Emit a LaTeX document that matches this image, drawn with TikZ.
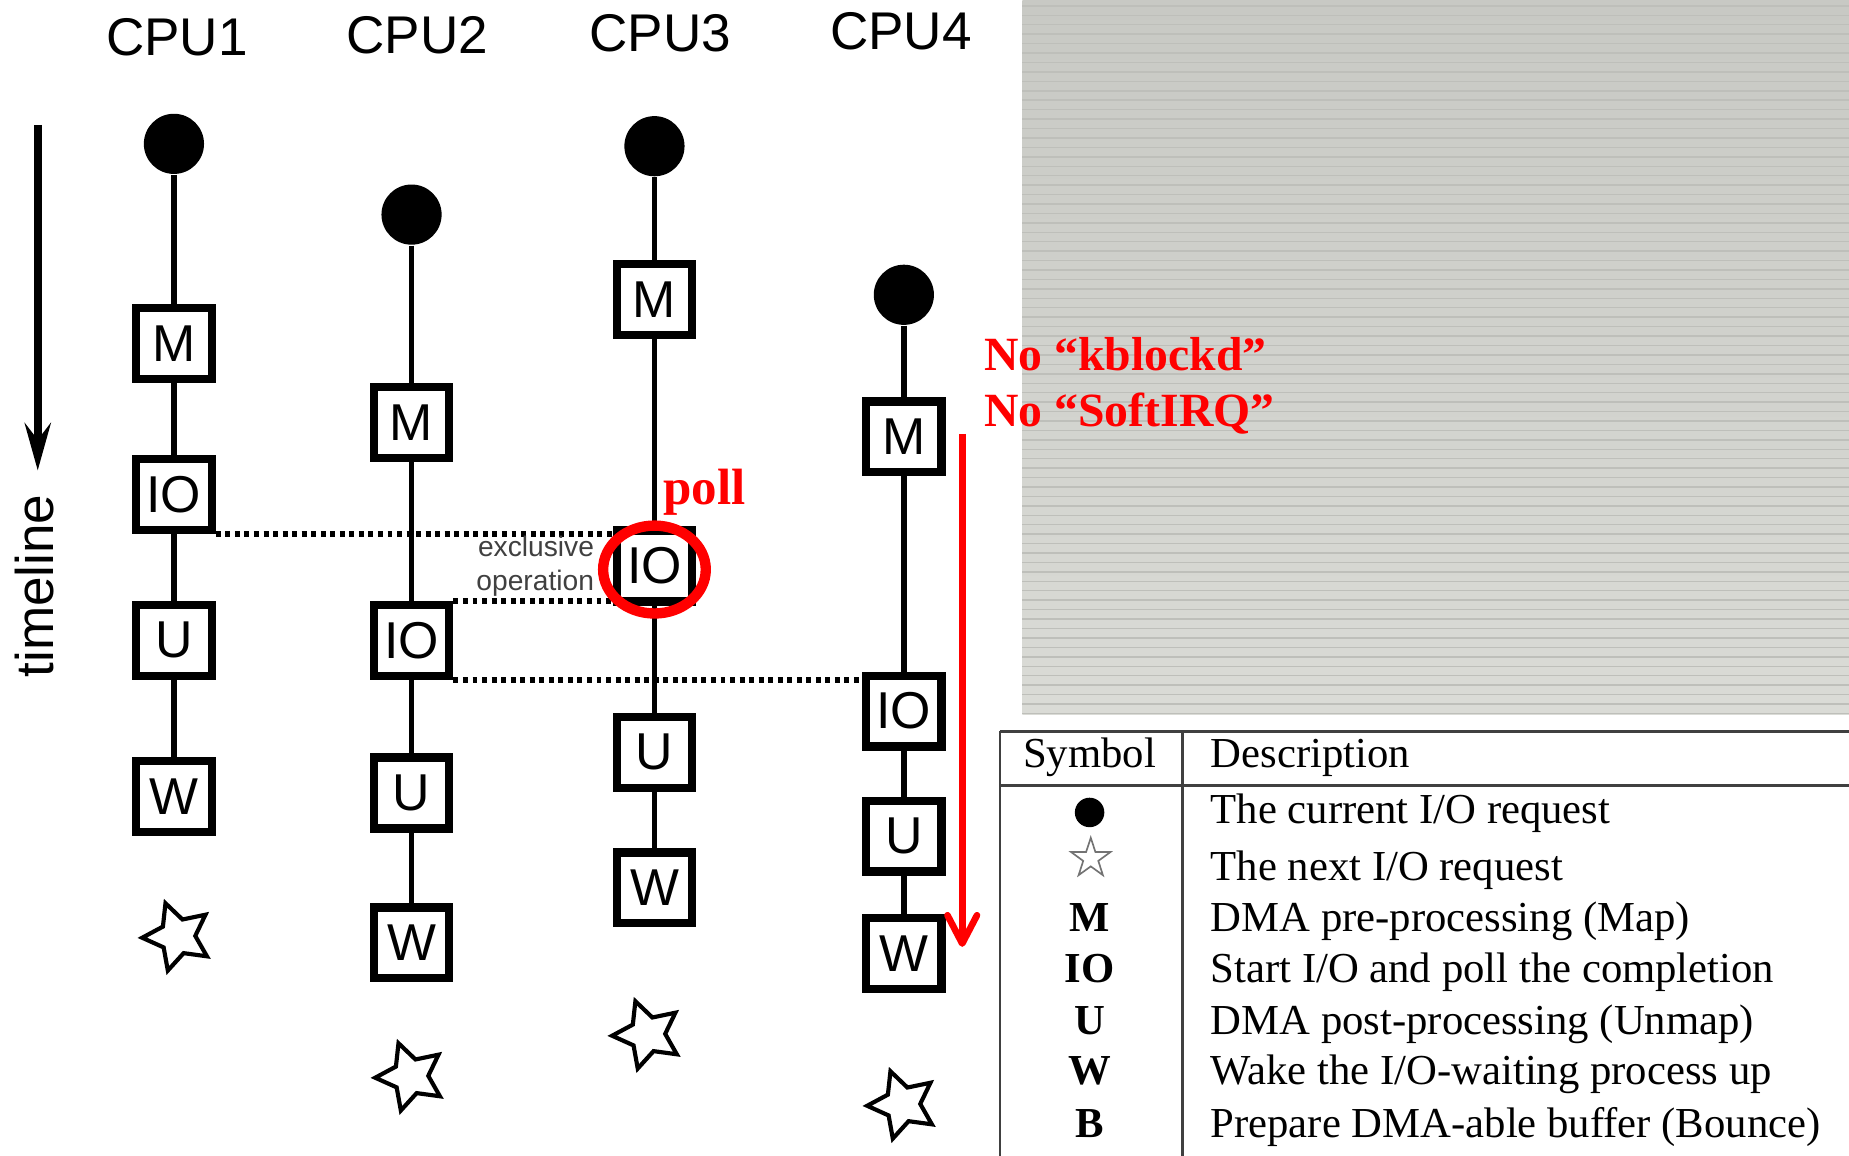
\documentclass[tikz,border=0pt]{standalone}
\usepackage{fontspec}
\setmainfont{Liberation Serif}
\setsansfont{Liberation Sans}
\usetikzlibrary{positioning,shapes.geometric,arrows.meta}
\definecolor{stripetop}{RGB}{200,201,196}
\definecolor{stripebot}{RGB}{218,219,214}
\definecolor{stripeline}{RGB}{190,191,186}
\definecolor{excltext}{RGB}{64,64,64}

\begin{document}
\begin{tikzpicture}[x=0.01cm, y=-0.01cm,
  cpu/.style={font=\sffamily\fontsize{12.8}{15}\selectfont, anchor=base, inner sep=0},
  req/.style={circle, fill=black, minimum size=0.51cm, inner sep=0},
  stage/.style={draw, line width=2pt, minimum width=0.64cm, minimum height=0.60cm, inner sep=0, font=\sffamily\fontsize{12.5}{14}\selectfont},
  nextreq/.style={star, star points=5, star point ratio=2, draw, line width=1pt, minimum size=0.6cm, inner sep=0, rotate=20},
  stem/.style={line width=1.4pt},
  dotline/.style={line width=1.4pt, dash pattern=on 1.2pt off 1.1pt},
  redtxt/.style={text=red, font=\rmfamily\bfseries\fontsize{11.5}{14}\selectfont, inner sep=0, anchor=base west},
  tabrule/.style={line width=0.7pt, black!75},
  tabtxt/.style={font=\rmfamily\fontsize{10.3}{12}\selectfont, inner sep=0, anchor=base west},
  tabsym/.style={font=\rmfamily\bfseries\fontsize{10.3}{12}\selectfont, inner sep=0, anchor=base}]
\useasboundingbox (0,0) rectangle (1568,980);
\fill[white] (0,0) rectangle (1568,980);
\shade[top color=stripetop, bottom color=stripebot] (867,0) rectangle (1568,606);
\foreach \y in {5,13,...,605}
  \draw[stripeline, line width=0.35pt] (867,\y) -- (1568,\y);

\node[cpu] (cpu1) at (150,47) {CPU1};
\node[cpu] (cpu2) at (354,45) {CPU2};
\node[cpu] (cpu3) at (560,44) {CPU3};
\node[cpu] (cpu4) at (764,42) {CPU4};

\coordinate (tl1) at (32,106);
\coordinate (tl2) at (32,399);
\draw[line width=2pt, -{Stealth[length=4mm, width=2.2mm, inset=1.4mm]}] (tl1) -- (tl2);
\node[cpu, rotate=90, anchor=center] (tlabel) at (29,497) {timeline};

\node[req] (d1) at (147.5,122) {};
\node[stage] (m1) at (147.5,291.5) {M};
\node[stage] (io1) at (147.5,419.5) {IO};
\node[stage] (u1) at (147.5,543) {U};
\node[stage] (w1) at (147.5,675.5) {W};
\node[nextreq] (n1) at (150.6,794.2) {};
\draw[stem] (d1) -- (m1) -- (io1) -- (u1) -- (w1);

\node[req] (d2) at (349,182) {};
\node[stage] (m2) at (349,358.5) {M};
\node[stage] (io2) at (349,543) {IO};
\node[stage] (u2) at (349,672.5) {U};
\node[stage] (w2) at (349,799.5) {W};
\node[nextreq] (n2) at (348.2,912.9) {};
\draw[stem] (d2) -- (m2) -- (io2) -- (u2) -- (w2);

\node[req] (d3) at (555,124) {};
\node[stage] (m3) at (555,254) {M};
\node[stage] (io3) at (555,480) {IO};
\node[stage] (u3) at (555,638) {U};
\node[stage] (w3) at (555,753) {W};
\node[nextreq] (n3) at (549.1,877.3) {};
\draw[stem] (d3) -- (m3) -- (io3) -- (u3) -- (w3);

\node[req] (d4) at (766.5,250) {};
\node[stage] (m4) at (766.5,370.5) {M};
\node[stage] (io4) at (766.5,603) {IO};
\node[stage] (u4) at (766.5,709) {U};
\node[stage] (w4) at (766.5,808.5) {W};
\node[nextreq] (n4) at (765.4,936.7) {};
\draw[stem] (d4) -- (m4) -- (io4) -- (u4) -- (w4);

\draw[dotline] (io1.south east) -- (io1.south east -| io3.west);
\draw[dotline] (io2.north east) -- (io2.north east -| io3.west);
\draw[dotline] (io2.south east) -- (io2.south east -| io4.west);
\node[left=0.15cm of io3, inner sep=0, align=right, text=excltext,
  font=\sffamily\fontsize{6.8}{8.3}\selectfont] (excl) {exclusive\\operation};

\node[ellipse, draw=red, line width=2.5pt, minimum width=0.87cm, minimum height=0.745cm, inner sep=0] (ring) at ([yshift=-0.03cm]io3.center) {};
\node[redtxt, font=\rmfamily\bfseries\fontsize{12.3}{14}\selectfont] (poll) at (562,428) {poll};
\node[redtxt] (nokb) at (834,314) {No “kblockd”};
\node[redtxt] (nosirq) at (834,362) {No “SoftIRQ”};
\coordinate (ra1) at (816,368);
\coordinate (ra2) at (816,803);
\draw[red, line width=1.6pt, -{Straight Barb[round, length=2.4mm, width=2.5mm]}] (ra1) -- (ra2);

\draw[tabrule] (848,620) -- (1568,620);
\draw[tabrule] (848,666.5) -- (1568,666.5);
\draw[tabrule] (848,620) -- (848,980);
\draw[tabrule] (1003,620) -- (1003,980);
\node[tabtxt, anchor=base] (symh) at (924,651) {Symbol};
\node[tabtxt] (desch) at (1026,651) {Description};
\node[req, minimum size=0.25cm] (s1) at (924,689) {};
\node[star, star points=5, star point ratio=2.6, draw=black!55, line width=0.4pt, minimum size=0.35cm, inner sep=0] (s2) at (925,728) {};
\node[tabsym] (s3) at (924,790) {M};
\node[tabsym] (s4) at (924,833) {IO};
\node[tabsym] (s5) at (924,877) {U};
\node[tabsym] (s6) at (924,920) {W};
\node[tabsym] (s7) at (924,965) {B};
\node[tabtxt] (t1) at (1026,698) {The current I/O request};
\node[tabtxt] (t2) at (1026,747) {The next I/O request};
\node[tabtxt] (t3) at (1026,790) {DMA pre-processing (Map)};
\node[tabtxt] (t4) at (1026,833) {Start I/O and poll the completion};
\node[tabtxt] (t5) at (1026,877) {DMA post-processing (Unmap)};
\node[tabtxt] (t6) at (1026,920) {Wake the I/O-waiting process up};
\node[tabtxt] (t7) at (1026,965) {Prepare DMA-able buffer (Bounce)};
\end{tikzpicture}
\end{document}
